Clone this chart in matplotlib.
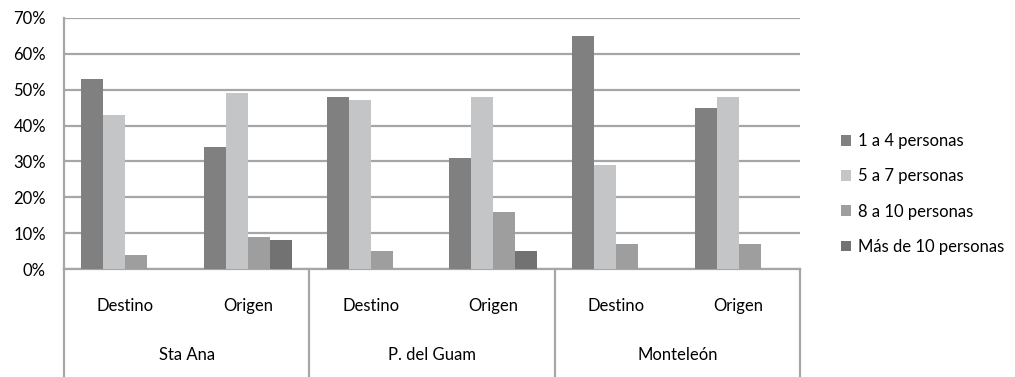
import numpy as np
import matplotlib.pyplot as plt
from matplotlib.patches import Patch

plt.rcParams['font.family'] = ['Lato', 'DejaVu Sans']

# datos
grupos = ['Sta Ana', 'P. del Guam', 'Monteleón']
tipos = ['Destino', 'Origen']
series = ['1 a 4 personas', '5 a 7 personas', '8 a 10 personas', 'Más de 10 personas']
uno_a_cuatro = [0.53, 0.34, 0.48, 0.31, 0.65, 0.45]
cinco_a_siete = [0.43, 0.49, 0.47, 0.48, 0.29, 0.48]
ocho_a_diez = [0.04, 0.09, 0.05, 0.16, 0.07, 0.07]
mas_de_diez = [0.0, 0.08, 0.0, 0.05, 0.0, 0.0]
colores = ['#808080', '#c4c5c6', '#9e9e9e', '#727272']

valores = [uno_a_cuatro, cinco_a_siete, ocho_a_diez, mas_de_diez]
gris = '#a6a6a6'
fs = 12

fig = plt.figure(figsize=(10.15, 3.77), dpi=100)
W, H = 1015, 377
ax = fig.add_axes([64 / W, (H - 269) / H, (800 - 64) / W, (269 - 18) / H])

x = np.arange(len(uno_a_cuatro))
ancho = 0.18
for i, (vals, col) in enumerate(zip(valores, colores)):
    ax.bar(x + (i - 1.5) * ancho, vals, ancho, color=col, zorder=3)

ax.set_xlim(-0.5, 5.5)
ax.set_ylim(0, 0.7)
ax.set_yticks(np.arange(0, 0.71, 0.1))
ax.set_yticklabels([f'{int(round(v * 100))}%' for v in np.arange(0, 0.71, 0.1)], fontsize=fs)
ax.grid(axis='y', color=gris, linewidth=1.6, zorder=0)
ax.tick_params(axis='y', length=0, pad=13)
for s in ['top', 'right']:
    ax.spines[s].set_visible(False)
ax.spines['left'].set_color(gris)
ax.spines['left'].set_linewidth(1.6)
ax.spines['bottom'].set_color(gris)
ax.spines['bottom'].set_linewidth(1.6)

# eje de categorias de dos niveles
ax.set_xticks(x)
ax.set_xticklabels(tipos * 3, fontsize=fs)
ax.tick_params(axis='x', length=0, pad=21)
trans = ax.get_xaxis_transform()
for k, g in enumerate(grupos):
    ax.text(2 * k + 0.5, -(355 - 269) / 251, g, transform=trans,
            ha='center', va='center', fontsize=fs)
for xs in [-0.5, 1.5, 3.5, 5.5]:
    ax.plot([xs, xs], [0, -(377 - 269) / 251], transform=trans,
            color=gris, linewidth=1.6, clip_on=False)

handles = [Patch(facecolor=c, label=s) for c, s in zip(colores, series)]
fig.legend(handles=handles, loc='center left', bbox_to_anchor=(826 / W, (H - 194) / H),
           frameon=False, fontsize=fs, handlelength=0.6, handleheight=0.6,
           handletextpad=0.4, labelspacing=1.15)

fig.savefig('out.png', dpi=100)
